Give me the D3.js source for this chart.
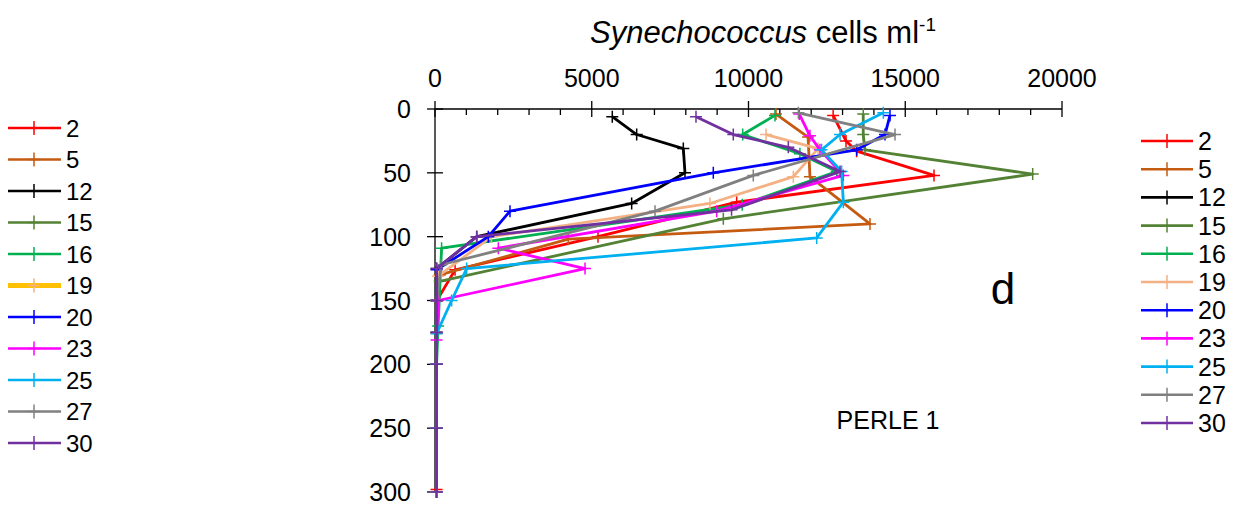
<!DOCTYPE html>
<html>
<head>
<meta charset="utf-8">
<script src="https://cdn.jsdelivr.net/npm/d3@7"></script>
<style>
  html, body { margin: 0; padding: 0; background: #fff; }
  svg { display: block; font-family: "Liberation Sans", Arial, sans-serif; }
</style>
</head>
<body>
<svg id="chart" width="1253" height="509"></svg>
<script>
// Station labels and colours
const stations = ["2", "5", "12", "15", "16", "19", "20", "23", "25", "27", "30"];
const colors = ["#FF0000", "#C55A11", "#000000", "#548235", "#00B050", "#F4B183",
                "#0000FF", "#FF00FF", "#00B0F0", "#808080", "#7030A0"];

// Depth (m) and Synechococcus abundance (cells ml-1) per station
const depth2  = [5, 25, 33, 52, 73, 100, 126, 150, 175, 200, 250, 298];
const cells2  = [12700, 13110, 13450, 15917, 9622, 5200, 640, 60, 50, 50, 50, 50];
const depth5  = [4, 22, 53, 90, 102, 130, 150, 175, 200, 250, 300];
const cells5  = [10877, 11900, 11960, 13875, 4250, 150, 50, 50, 50, 50, 50];
const depth12 = [6, 20, 31, 50, 74, 100, 125, 150, 175, 200, 250, 300];
const cells12 = [5655, 6433, 7921, 7974, 6273, 1330, 50, 50, 50, 50, 50, 50];
const depth15 = [4, 20, 32, 51, 86, 135, 150, 175, 200, 250, 300];
const cells15 = [13660, 13660, 13716, 19065, 9197, 150, 50, 50, 50, 50, 50];
const depth16 = [5, 20, 35, 49, 75, 109, 170, 200, 250, 300];
const cells16 = [10845, 9815, 11640, 12815, 9800, 210, 100, 50, 50, 50];
const depth19 = [20, 31, 53, 74, 100, 131, 150, 175, 200, 250, 300];
const cells19 = [10560, 12220, 11430, 8770, 1800, 100, 50, 50, 50, 50, 50];
const depth20 = [5, 20, 32, 50, 80, 100, 126, 150, 175, 200, 250, 300];
const cells20 = [14513, 14354, 13450, 8877, 2392, 1700, 50, 50, 50, 50, 50, 50];
const depth23 = [4, 21, 32, 52, 80, 109, 125, 150, 181, 200, 250, 300];
const cells23 = [11620, 11960, 12280, 13025, 8985, 2020, 4785, 100, 50, 50, 50, 50];
const depth25 = [3, 20, 32, 49, 73, 101, 125, 150, 176, 200, 250, 300];
const cells25 = [14300, 12920, 12330, 12970, 13025, 12175, 1010, 530, 50, 50, 50, 50];
const depth27 = [3, 20, 52, 80, 122, 150, 175, 200, 250, 300];
const cells27 = [11590, 14673, 10153, 7018, 200, 50, 50, 50, 50, 50];
const depth30 = [6, 20, 30, 49, 79, 100, 125, 150, 175, 200, 250, 300];
const cells30 = [8325, 9515, 11270, 12920, 9460, 1330, 50, 50, 50, 50, 50, 50];

const depths = [depth2, depth5, depth12, depth15, depth16, depth19, depth20, depth23, depth25, depth27, depth30];
const cells  = [cells2, cells5, cells12, cells15, cells16, cells19, cells20, cells23, cells25, cells27, cells30];

// Axis ticks
const xTicks = [0, 5000, 10000, 15000, 20000];
const yTicks = [0, 50, 100, 150, 200, 250, 300];

const series = stations.map((s, i) => ({
  name: s,
  color: colors[i],
  points: depths[i].map((d, j) => ({ depth: d, value: cells[i][j] }))
}));

const svg = d3.select("#chart");

const x = d3.scaleLinear().domain([0, 20000]).range([435, 1062]);
const y = d3.scaleLinear().domain([0, 300]).range([109, 492]);

// Axes
const axisColor = "#000";
const g = svg.append("g");

// x axis line + ticks (minor every 1000)
g.append("line").attr("x1", x(0)).attr("x2", x(20000)).attr("y1", y(0)).attr("y2", y(0))
  .attr("stroke", axisColor).attr("stroke-width", 1.3);
d3.range(0, 20001, 1000).forEach(v => {
  const major = v % 5000 === 0;
  g.append("line")
    .attr("x1", x(v)).attr("x2", x(v))
    .attr("y1", major ? y(0) - 8 : y(0))
    .attr("y2", y(0) + (major ? 8 : 6))
    .attr("stroke", axisColor).attr("stroke-width", 1.3);
});
g.selectAll(".xlab").data(xTicks).enter().append("text")
  .attr("x", d => x(d)).attr("y", 87)
  .attr("text-anchor", "middle").attr("font-size", 25).attr("fill", "#000")
  .text(d => d);

// y axis line + ticks
g.append("line").attr("x1", x(0)).attr("x2", x(0)).attr("y1", y(0)).attr("y2", y(300))
  .attr("stroke", axisColor).attr("stroke-width", 1.3);
g.selectAll(".ytick").data(yTicks).enter().append("line")
  .attr("x1", x(0) - 8).attr("x2", x(0) + 8)
  .attr("y1", d => y(d)).attr("y2", d => y(d))
  .attr("stroke", axisColor).attr("stroke-width", 1.3);
g.selectAll(".ylab").data(yTicks).enter().append("text")
  .attr("x", 411).attr("y", d => y(d) + 9)
  .attr("text-anchor", "end").attr("font-size", 25).attr("fill", "#000")
  .text(d => d);

// Axis title
const title = svg.append("text").attr("x", 763).attr("y", 43)
  .attr("text-anchor", "middle").attr("font-size", 31).attr("fill", "#000");
title.append("tspan").attr("font-style", "italic").text("Synechococcus");
title.append("tspan").text(" cells ml");
title.append("tspan").attr("font-size", 19).attr("dy", -12).text("-1");

// Profiles
const line = d3.line().x(d => x(d.value)).y(d => y(d.depth));
const plot = svg.append("g");
series.forEach(s => {
  plot.append("path").datum(s.points)
    .attr("d", line).attr("fill", "none")
    .attr("stroke", s.color).attr("stroke-width", 2.8).attr("stroke-linejoin", "round");
  plot.append("g").selectAll("path").data(s.points).enter().append("path")
    .attr("d", d => `M${x(d.value) - 6},${y(d.depth)}h12M${x(d.value)},${y(d.depth) - 6}v12`)
    .attr("stroke", s.color).attr("stroke-width", 1.5).attr("fill", "none");
});

// Panel letter and cruise label
svg.append("text").attr("x", 1003).attr("y", 304).attr("text-anchor", "middle")
  .attr("font-size", 44).attr("fill", "#000").text("d");
svg.append("text").attr("x", 888).attr("y", 429).attr("text-anchor", "middle")
  .attr("font-size", 25).attr("fill", "#000").text("PERLE 1");

// Left legend
const legL = svg.append("g");
series.forEach((s, i) => {
  const yy = 128 + i * 31.5;
  const thick = s.name === "19";
  legL.append("line").attr("x1", 8).attr("x2", 61).attr("y1", yy).attr("y2", yy)
    .attr("stroke", thick ? "#FFC000" : s.color).attr("stroke-width", thick ? 5 : 2.6);
  legL.append("line").attr("x1", 34).attr("x2", 34).attr("y1", yy - 7).attr("y2", yy + 7)
    .attr("stroke", s.color).attr("stroke-width", 1.5);
  legL.append("line").attr("x1", 28).attr("x2", 40).attr("y1", yy).attr("y2", yy)
    .attr("stroke", s.color).attr("stroke-width", 1.5);
  legL.append("text").attr("x", 66).attr("y", yy + 8.5).attr("font-size", 24)
    .attr("fill", "#000").text(s.name);
});

// Right legend
const legR = svg.append("g");
series.forEach((s, i) => {
  const yy = 141 + i * 28.2;
  legR.append("line").attr("x1", 1141).attr("x2", 1193).attr("y1", yy).attr("y2", yy)
    .attr("stroke", s.color).attr("stroke-width", 2.6);
  legR.append("line").attr("x1", 1167).attr("x2", 1167).attr("y1", yy - 7).attr("y2", yy + 7)
    .attr("stroke", s.color).attr("stroke-width", 1.5);
  legR.append("text").attr("x", 1198).attr("y", yy + 9).attr("font-size", 25)
    .attr("fill", "#000").text(s.name);
});
</script>
</body>
</html>
